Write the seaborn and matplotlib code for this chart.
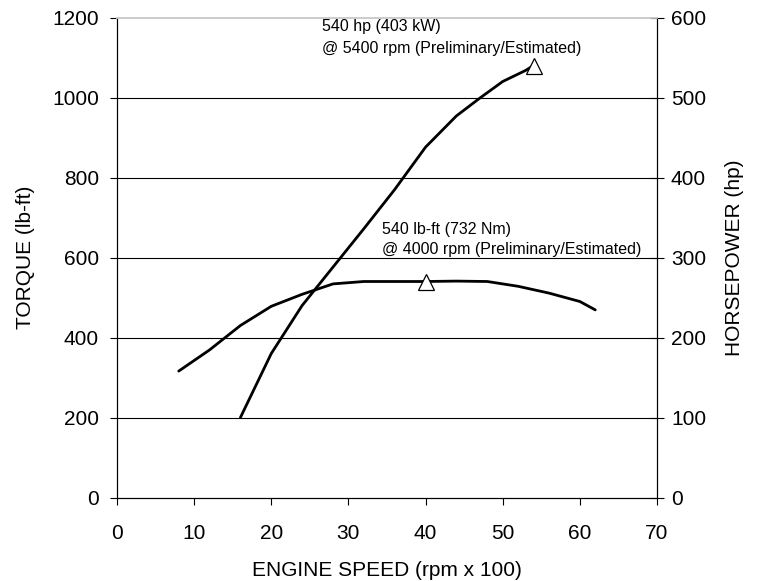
import pandas as pd
import seaborn as sns
import matplotlib.pyplot as plt

# Torque curve (lb-ft) vs engine speed (rpm x 100)
torque_rpm = [8, 12, 16, 20, 24, 28, 32, 36, 40, 44, 48, 52, 56, 60, 62]
torque_lbft = [316, 369, 430, 478, 508, 534, 540, 540, 540, 541, 540, 528, 511, 490, 469]

# Horsepower curve (hp) vs engine speed
hp_rpm = [16, 20, 24, 28, 32, 36, 40, 44, 47, 50, 53, 54]
hp_values = [100, 180, 240, 288, 336, 385, 438, 477, 499, 520, 534, 540]

# Peak markers
peak_torque = (40, 540)
peak_hp = (54, 540)

x_ticks = [0, 10, 20, 30, 40, 50, 60, 70]
torque_ticks = [0, 200, 400, 600, 800, 1000, 1200]
hp_ticks = [0, 100, 200, 300, 400, 500, 600]

df_t = pd.DataFrame({'rpm': torque_rpm, 'torque': torque_lbft})
df_h = pd.DataFrame({'rpm': hp_rpm, 'hp': hp_values})

sns.set_theme(style='white')
plt.rcParams['font.family'] = ['Liberation Sans', 'DejaVu Sans']
plt.rcParams['text.color'] = 'black'
plt.rcParams['axes.labelcolor'] = 'black'
plt.rcParams['xtick.color'] = 'black'
plt.rcParams['ytick.color'] = 'black'

fig = plt.figure(figsize=(7.57, 5.81), dpi=100)
ax = fig.add_axes([117 / 757, 1 - 497.5 / 581, 540 / 757, 480 / 581])
ax2 = ax.twinx()

# gridlines on torque axis
for y in torque_ticks[1:-1]:
    ax.axhline(y, color='black', lw=0.8, zorder=1)

sns.lineplot(data=df_t, x='rpm', y='torque', ax=ax, color='black', lw=2, zorder=3)
sns.lineplot(data=df_h, x='rpm', y='hp', ax=ax2, color='black', lw=2, zorder=3)

ax.plot(*peak_torque, marker='^', ms=11, mfc='white', mec='black', mew=0.9, zorder=5)
ax2.plot(*peak_hp, marker='^', ms=11, mfc='white', mec='black', mew=0.9, zorder=5)

ax.set_xlim(0, 70)
ax.set_ylim(0, 1200)
ax2.set_ylim(0, 600)
ax.set_xticks(x_ticks)
ax.set_yticks(torque_ticks)
ax2.set_yticks(hp_ticks)

ax.set_xlabel('ENGINE SPEED (rpm x 100)', fontsize=15, labelpad=13)
ax.set_ylabel('TORQUE (lb-ft)', fontsize=15, labelpad=12)
ax2.set_ylabel('HORSEPOWER (hp)', fontsize=15, labelpad=14)

ax.tick_params(axis='x', direction='out', length=5, width=0.8, labelsize=15, pad=14, bottom=True)
ax.tick_params(axis='y', direction='out', length=5, width=0.8, labelsize=15, pad=8, left=True)
ax2.tick_params(axis='y', direction='inout', length=10, width=0.8, labelsize=15, pad=5, right=True)

for a in (ax, ax2):
    for side in ('left', 'right', 'bottom'):
        a.spines[side].set_color('black')
        a.spines[side].set_linewidth(0.8)
    a.spines['top'].set_color('#cccccc')
    a.spines['top'].set_linewidth(1.2)

# annotations
ax.text(26.6, 1177, '540 hp (403 kW)', fontsize=11.5, va='center', ha='left')
ax.text(26.6, 1123, '@ 5400 rpm (Preliminary/Estimated)', fontsize=11.5, va='center', ha='left')
ax.text(34.3, 669, '540 lb-ft (732 Nm)', fontsize=11.5, va='center', ha='left')
ax.text(34.3, 619, '@ 4000 rpm (Preliminary/Estimated)', fontsize=11.5, va='center', ha='left')

fig.savefig('out.png', dpi=100)
